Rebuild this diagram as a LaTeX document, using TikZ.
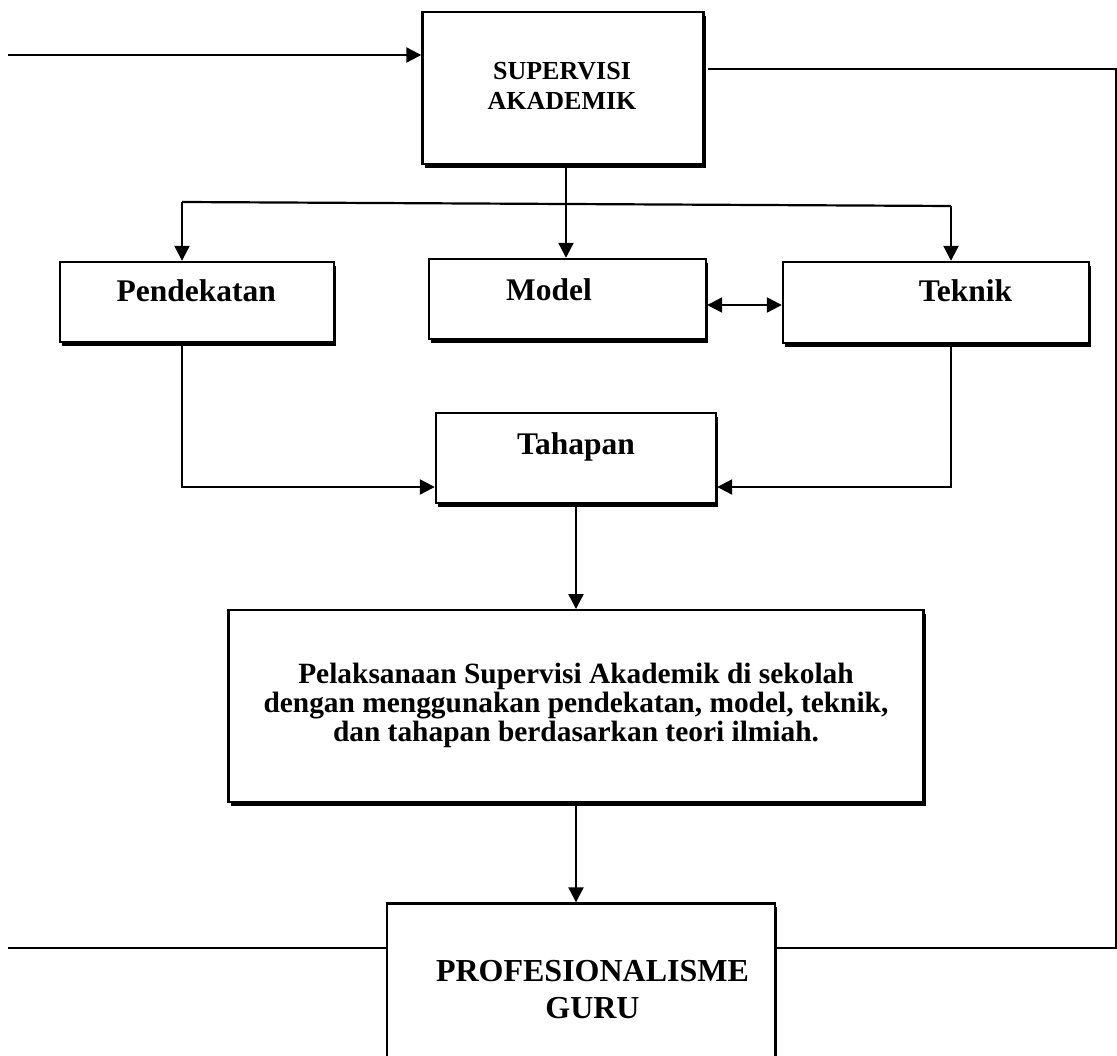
\documentclass[tikz,border=0pt]{standalone}
\usepackage{fontspec}
\setmainfont{Liberation Serif}
\usetikzlibrary{arrows.meta,shadows}
\begin{document}
\begin{tikzpicture}[x=1pt,y=-1pt,
  box/.style={draw, line width=2.4pt, fill=white, inner sep=0pt,
    drop shadow={shadow xshift=2pt, shadow yshift=-3.8pt, opacity=1, fill=black}},
  conn/.style={line width=2.2pt},
  arr/.style={conn, -{Triangle[width=15pt,length=15pt]}},
  darr/.style={conn, {Triangle[width=15pt,length=15pt]}-{Triangle[width=15pt,length=15pt]}},
  lbl/.style={inner sep=0pt, anchor=base}
]
\clip (0,0) rectangle (1117,1056);
\fill[white] (0,0) rectangle (1117,1056);

% boxes
\node[box, minimum width=281pt, minimum height=152pt] (sup) at (563,88) {};
\node[box, minimum width=274pt, minimum height=80pt] (pend) at (197,302) {};
\node[box, minimum width=277pt, minimum height=80pt] (model) at (567.5,299) {};
\node[box, minimum width=306pt, minimum height=81pt] (tek) at (936,302.5) {};
\node[box, minimum width=280pt, minimum height=89.5pt] (tah) at (576,458) {};
\node[box, minimum width=695pt, minimum height=191.5pt] (pel) at (576,706) {};
\node[box, minimum width=388pt, minimum height=200pt] (prof) at (581,1003.5) {};

% texts
\node[lbl, font=\fontsize{26}{29.3}\selectfont\bfseries] (supT) at (562,80)
  {\begin{tabular}[t]{@{}c@{}}SUPERVISI\\AKADEMIK\end{tabular}};
\node[lbl, font=\fontsize{31.5}{36}\selectfont\bfseries] (pendT) at (196.3,301.7) {Pendekatan};
\node[lbl, font=\fontsize{31.5}{36}\selectfont\bfseries] (modelT) at (549,300.7) {Model};
\node[lbl, font=\fontsize{31.5}{36}\selectfont\bfseries] (tekT) at (965.5,302) {Teknik};
\node[lbl, font=\fontsize{31.5}{36}\selectfont\bfseries] (tahT) at (576,455) {Tahapan};
\node[lbl, font=\fontsize{29.4}{29.4}\selectfont\bfseries] (pelT) at (576,683)
  {\begin{tabular}[t]{@{}c@{}}Pelaksanaan Supervisi Akademik di sekolah\\dengan menggunakan pendekatan, model, teknik,\\dan tahapan berdasarkan teori ilmiah.\end{tabular}};
\node[lbl, font=\fontsize{32}{36.7}\selectfont\bfseries] (profT) at (592.5,981.7)
  {\begin{tabular}[t]{@{}c@{}}PROFESIONALISME\\GURU\end{tabular}};

% connectors
\coordinate (inL) at (8,55);
\draw[arr] (inL) -- (sup.west |- inL);

\coordinate (rtc) at (1116,69);
\draw[conn] ([xshift=3.5pt]sup.east |- rtc) -- (rtc) |- (prof.east |- 0,948);

\coordinate (inB) at (8,948);
\draw[conn] (inB) -- (prof.west |- inB);

\coordinate (dL) at (182,202);
\coordinate (dR) at (951,206);
\draw[conn] (dL) -- (dR);
\draw[arr] (dL) -- (dL |- pend.north);
\draw[arr] (dR) -- (dR |- tek.north);
\draw[arr] (sup.south -| 566,0) -- (model.north -| 566,0);

\draw[darr] (model.east |- 0,305) -- (tek.west |- 0,305);

\draw[arr] (pend.south -| dL) |- (tah.west |- 0,487);
\draw[arr] (tek.south -| dR) |- (tah.east |- 0,487);

\draw[arr] (tah.south) -- (pel.north);
\draw[arr] (pel.south) -- (pel.south |- prof.north);
\end{tikzpicture}
\end{document}
